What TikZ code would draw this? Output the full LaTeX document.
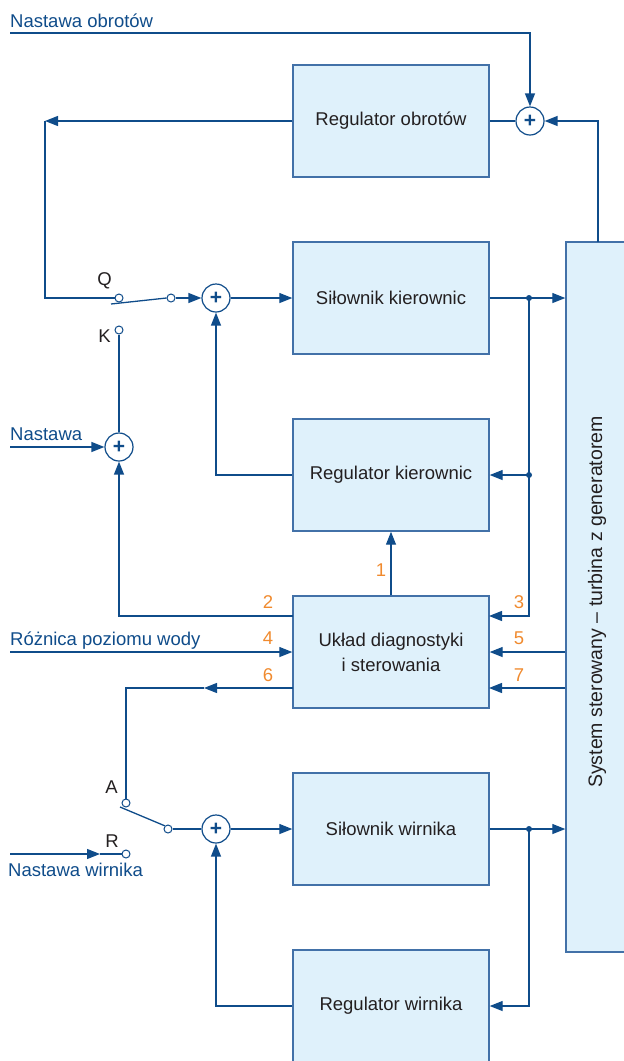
\documentclass[tikz,border=0pt]{standalone}
\usepackage{fontspec}
\setmainfont{Liberation Sans}
\usetikzlibrary{positioning,arrows.meta}

\definecolor{linia}{HTML}{0F4C8A}
\definecolor{ramka}{HTML}{4271A8}
\definecolor{tlo}{HTML}{DFF1FB}
\definecolor{tekst}{HTML}{231F20}
\definecolor{pomar}{HTML}{F08A2E}

\begin{document}
\begin{tikzpicture}[x=1pt, y=-1pt, font=\fontsize{18.5}{25}\selectfont, >={Triangle[length=13pt,width=10pt]}]

% Style elementow
\tikzstyle{blok}   = [rectangle, draw=ramka, line width=1.4pt, fill=tlo, text=tekst, minimum width=196pt, minimum height=112pt, align=center]
\tikzstyle{suma}   = [circle, draw=linia, line width=1.2pt, fill=white, minimum size=28pt, inner sep=0pt, text=linia, font=\bfseries\fontsize{21}{21}\selectfont]
\tikzstyle{styk}   = [circle, draw=linia, line width=1pt, fill=white, minimum size=8pt, inner sep=0pt]
\tikzstyle{kropka} = [circle, fill=linia, minimum size=6pt, inner sep=0pt]
\tikzstyle{linia}  = [draw=linia, line width=1.3pt]
\tikzstyle{sygnal} = [linia, ->]
\tikzstyle{opis}   = [text=linia, anchor=base west, inner sep=0pt]
\tikzstyle{nr}     = [text=pomar, anchor=base, inner sep=0pt]
\tikzstyle{lit}    = [text=tekst, anchor=base, inner sep=0pt]

\useasboundingbox (0,0) rectangle (624,1061);

	% Bloki
	\node[blok] (reg_obr)                                          at (391,121) {Regulator obrotów};
	\node[blok] (sil_kier) [below of=reg_obr, node distance=177pt]  {Siłownik kierownic};
	\node[blok] (reg_kier) [below of=sil_kier, node distance=177pt] {Regulator kierownic};
	\node[blok] (uklad)    [below of=reg_kier, node distance=177pt] {Układ diagnostyki\\i sterowania};
	\node[blok] (sil_wir)  [below of=uklad, node distance=177pt]    {Siłownik wirnika};
	\node[blok] (reg_wir)  [below of=sil_wir, node distance=177pt]  {Regulator wirnika};
	\node[rectangle, draw=ramka, line width=1.4pt, fill=tlo, minimum width=74pt, minimum height=710pt] (system) at (603,597) {}; % Obiekt
	\node[rotate=90, text=tekst, font=\fontsize{19.5}{22}\selectfont] (t_sys) at (597,602) {System sterowany – turbina z generatorem};

	% Wezly sumujace
	\node[suma] (s_obr)  at (530,121) {+};
	\node[suma] (s_kier) at (216,298) {+};
	\node[suma] (s_nast) at (119,447) {+};
	\node[suma] (s_wir)  at (216,829) {+};

	% Przelaczniki
	\node[styk] (q)  at (119,298) {};
	\node[styk] (q2) at (171,298) {};
	\node[styk] (k)  at (119,330) {};
	\node[styk] (a)  at (126,803) {};
	\node[styk] (a2) at (168,829) {};
	\node[styk] (r)  at (126,854) {};
	\node[lit] (l_q) at (104.5,285) {Q};
	\node[lit] (l_k) at (104.5,342) {K};
	\node[lit] (l_a) at (111.5,793) {A};
	\node[lit] (l_r) at (112,847) {R};
	\coordinate (q_noz) at (111,304);
	\coordinate (a_noz) at (120,807);
	\draw[linia] (q_noz) -- (q2.west); % Noz Q
	\draw[linia] (a_noz) -- (a2.north west); % Noz A

	% Wejscia
	\node[opis] (t_obr)  at (10,27)  {Nastawa obrotów};
	\node[opis] (t_nast) at (10,440) {Nastawa};
	\node[opis] (t_roz)  at (10,645) {Różnica poziomu wody};
	\node[opis] (t_wir)  at (8,876)  {Nastawa wirnika};
	\coordinate (wej_obr)  at (10,33);
	\coordinate (wej_nast) at (10,447);
	\coordinate (wej_roz)  at (10,652);
	\coordinate (wej_wir)  at (10,854);
	\coordinate (r_strz)   at (100,854);

	% Petla obrotow
	\coordinate (sys_obr) at (598,242);
	\coordinate (rog_obr) at (45,121);
	\draw[sygnal] (wej_obr) -| (s_obr);
	\draw[sygnal] (sys_obr) |- (s_obr);
	\draw[linia] (s_obr) -- (reg_obr);
	\draw[sygnal] (reg_obr) -- (rog_obr);
	\draw[linia] (rog_obr) |- (q);

	% Petla kierownic
	\draw[sygnal] (q2) -- (s_kier);
	\draw[sygnal] (s_kier) -- (sil_kier);
	\draw[linia] (s_nast) -- (k);
	\draw[sygnal] (wej_nast) -- (s_nast);
	\draw[sygnal] (reg_kier) -| (s_kier);
	\draw[sygnal] (uklad) -- (reg_kier);
	\node[kropka] (pkt1) at (529,298) {};
	\node[kropka] (pkt2) at (529,475) {};
	\draw[sygnal] (sil_kier) -- (sil_kier -| system.west);
	\draw[sygnal] (pkt2.center) -- (reg_kier);

	% Uklad diagnostyki
	\coordinate (u2) at (293,616);
	\coordinate (u3) at (489,616);
	\coordinate (u6) at (293,688);
	\coordinate (u7) at (489,688);
	\coordinate (strz6) at (204,688);
	\coordinate (rog6) at (126,688);
	\draw[sygnal] (u2) -| (s_nast);
	\draw[sygnal] (pkt1.center) |- (u3);
	\draw[sygnal] (wej_roz) -- (uklad);
	\draw[sygnal] (system.west |- uklad) -- (uklad);
	\draw[sygnal] (system.west |- u7) -- (u7);
	\draw[sygnal] (u6) -- (strz6);
	\draw[linia] (strz6) -- (rog6) -- (a);

	% Numery sygnalow
	\node[nr] (n1) at (381,576) {1};
	\node[nr] (n2) at (268,608) {2};
	\node[nr] (n3) at (519,608) {3};
	\node[nr] (n4) at (268,644) {4};
	\node[nr] (n5) at (519,644) {5};
	\node[nr] (n6) at (268,681) {6};
	\node[nr] (n7) at (519,681) {7};

	% Petla wirnika
	\draw[linia] (a2) -- (s_wir);
	\draw[sygnal] (s_wir) -- (sil_wir);
	\draw[sygnal] (wej_wir) -- (r_strz);
	\draw[linia] (r_strz) -- (r);
	\node[kropka] (pkt3) at (529,829) {};
	\draw[sygnal] (sil_wir) -- (sil_wir -| system.west);
	\draw[sygnal] (pkt3.center) |- (reg_wir);
	\draw[sygnal] (reg_wir) -| (s_wir);

\end{tikzpicture}
\end{document}
